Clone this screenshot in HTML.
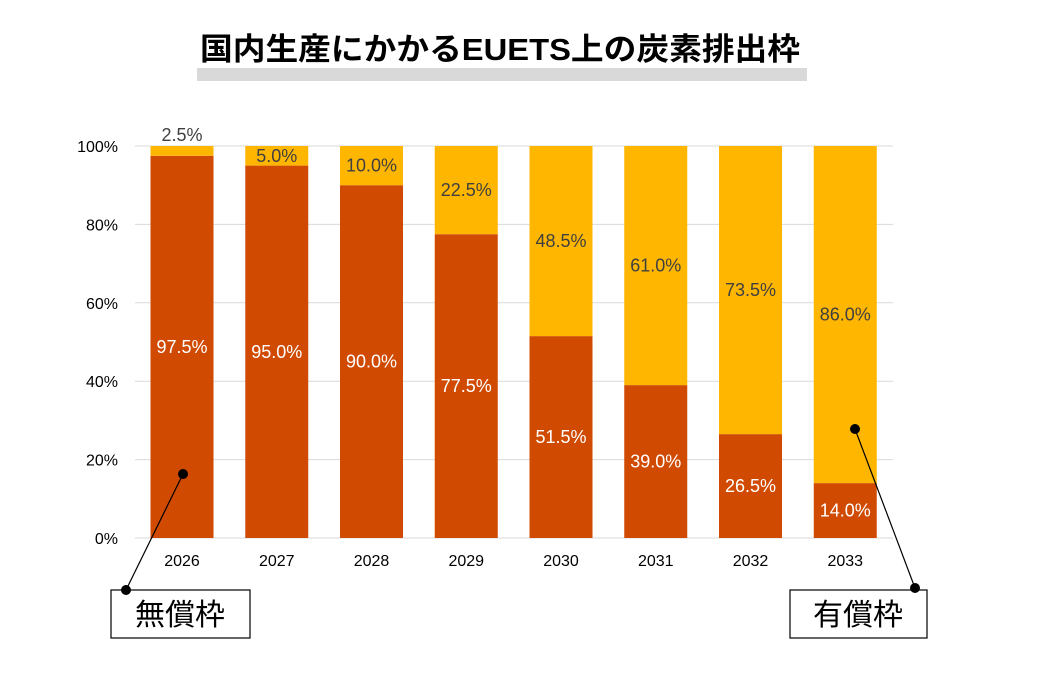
<!DOCTYPE html>
<html><head><meta charset="utf-8"><style>
body{margin:0;background:#fff;width:1054px;height:674px;overflow:hidden;font-family:"Liberation Sans","Noto Sans CJK JP",sans-serif}
</style></head><body>
<svg width="1054" height="674" font-family="Liberation Sans, Noto Sans CJK JP, sans-serif">
<text x="200" y="60" textLength="600" lengthAdjust="spacingAndGlyphs" font-size="31" font-weight="bold" fill="#000">国内生産にかかるEUETS上の炭素排出枠</text>
<rect x="197" y="68" width="610" height="13" fill="#d9d9d9"/>
<g id="grid"></g><g id="bars"></g><g id="labels"></g>
<g>
<line x1="126" y1="590" x2="183" y2="474" stroke="#000" stroke-width="1.2"/>
<circle cx="183" cy="474" r="5" fill="#000"/>
<rect x="111" y="590" width="139" height="48" fill="#fff" stroke="#000" stroke-width="1.2"/>
<circle cx="126" cy="590" r="5" fill="#000"/>
<text x="180" y="625" text-anchor="middle" font-size="30" fill="#000">無償枠</text>
</g>
<g>
<line x1="915" y1="588" x2="855" y2="429" stroke="#000" stroke-width="1.2"/>
<circle cx="855" cy="429" r="5" fill="#000"/>
<rect x="790" y="590" width="137" height="48" fill="#fff" stroke="#000" stroke-width="1.2"/>
<circle cx="915" cy="588" r="5" fill="#000"/>
<text x="858" y="625" text-anchor="middle" font-size="30" fill="#000">有償枠</text>
</g>
</svg>
<script>
const years=["2026","2027","2028","2029","2030","2031","2032","2033"];
const freeShare=[97.5,95.0,90.0,77.5,51.5,39.0,26.5,14.0];
const paidShare=[2.5,5.0,10.0,22.5,48.5,61.0,73.5,86.0];
const yTicks=[0,20,40,60,80,100];
const NS="http://www.w3.org/2000/svg";
const y0=538,yTop=146,x0=135,x1=893,step=94.75,barW=63,first=182;
const ys=v=>y0-(y0-yTop)*v/100;
const xc=i=>first+i*step;
function mk(t,a,p){const e=document.createElementNS(NS,t);for(const k in a)e.setAttribute(k,a[k]);document.getElementById(p).appendChild(e);return e;}
yTicks.forEach(v=>{
 const l=mk("line",{x1:x0,x2:x1,y1:ys(v),y2:ys(v),stroke:"#d9d9d9","stroke-width":1},"grid");
 
 
 const t=mk("text",{x:118,y:ys(v)+6,"text-anchor":"end","font-size":16,fill:"#000"},"grid");
 t.textContent=v+"%";
 
 
});
years.forEach((yr,i)=>{
 const f=freeShare[i],p=paidShare[i],x=xc(i)-barW/2;
 const r1=mk("rect",{x:x,y:ys(f),width:barW,height:y0-ys(f),fill:"#d04a02"},"bars");
 
 
 const r2=mk("rect",{x:x,y:ys(f+p),width:barW,height:ys(f)-ys(f+p),fill:"#ffb600"},"bars");
 
 
 const t1=mk("text",{x:xc(i),y:ys(f/2)+6,"text-anchor":"middle","font-size":18,fill:"#fff"},"labels");
 t1.textContent=f.toFixed(1)+"%";
 
 
 const small=p<4;
 const t2=mk("text",{x:xc(i),y:small?ys(f+p)-5:ys(f+p/2)+6,"text-anchor":"middle","font-size":18,fill:"#404040"},"labels");
 t2.textContent=p.toFixed(1)+"%";
 
 
 const tx=mk("text",{x:xc(i),y:566,"text-anchor":"middle","font-size":16,fill:"#000"},"labels");
 tx.textContent=yr;
 
 
});
</script>
</body></html>
